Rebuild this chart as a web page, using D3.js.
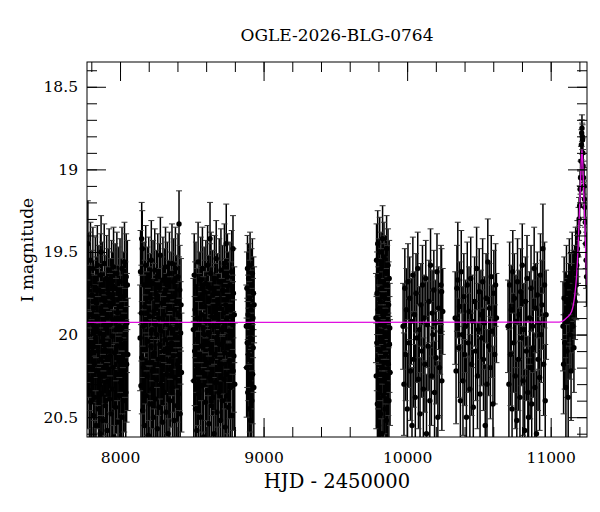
<!DOCTYPE html>
<html>
<head>
<meta http-equiv="Content-Type" content="text/html; charset=utf-8" />
<script src="https://cdn.jsdelivr.net/npm/d3@7"></script>
<title>OGLE-2026-BLG-0764</title>
<style>
  body { margin: 0; background: #fff; }
  text { font-family: "DejaVu Serif", serif; }
</style>
</head>
<body>
<svg width="600" height="512" id="mainsvg"></svg>
<script>
// photometry per observing season: [HJD-2450000, I mag, error]
const s2017 = [[7772,19.98,0.31],[7775,20.21,0.36],[7776,19.45,0.26],[7777,19.71,0.27],[7780,20.05,0.33],[7783,19.62,0.24],[7786,20.34,0.38],[7788,19.88,0.3],[7791,20.12,0.34],[7794,19.55,0.23],[7797,20.41,0.39],[7800,19.93,0.3],[7802,20.27,0.36],[7805,19.76,0.27],[7808,20.08,0.33],[7811,19.6,0.25],[7814,20.49,0.4],[7816,19.84,0.29],[7819,20.17,0.35],[7822,19.95,0.31],[7825,20.38,0.37],[7828,19.67,0.26],[7830,20.02,0.32],[7833,20.55,0.41],[7836,19.81,0.28],[7839,20.22,0.35],[7842,19.58,0.24],[7845,20.1,0.33],[7847,19.9,0.3],[7850,20.45,0.39],[7853,19.73,0.27],[7856,20.3,0.37],[7859,19.99,0.31],[7862,20.6,0.42],[7864,19.64,0.25],[7867,20.15,0.34],[7868,19.5,0.22],[7870,19.86,0.29],[7873,20.36,0.38],[7876,19.7,0.26],[7878,20.04,0.32],[7881,20.52,0.4],[7884,19.92,0.3],[7887,20.25,0.36],[7890,19.57,0.24],[7893,20.09,0.33],[7895,19.8,0.28],[7898,20.43,0.39],[7901,19.96,0.31],[7904,20.19,0.35],[7907,19.66,0.26],[7910,20.58,0.41],[7912,19.89,0.3],[7915,20.28,0.36],[7918,19.75,0.27],[7921,20.06,0.32],[7924,19.61,0.25],[7927,20.39,0.38],[7929,19.94,0.31],[7932,20.13,0.34],[7935,19.83,0.29],[7938,20.48,0.4],[7941,19.69,0.26],[7944,20.01,0.32],[7946,20.33,0.37],[7949,19.78,0.28],[7952,20.2,0.35],[7955,19.59,0.24],[7958,20.62,0.42],[7961,19.91,0.3],[7963,20.11,0.34],[7966,19.72,0.27],[7969,20.44,0.39],[7972,19.97,0.31],[7975,20.24,0.36],[7978,19.63,0.25],[7980,20.07,0.33],[7983,19.87,0.29],[7986,20.53,0.41],[7989,19.74,0.27],[7992,20.16,0.35],[7995,19.95,0.31],[7997,20.37,0.38],[8000,19.68,0.26],[8003,20.03,0.32],[8006,20.29,0.36],[8009,19.82,0.28],[8012,20.5,0.4],[8014,19.6,0.25],[8017,20.14,0.34],[8020,19.9,0.3],[8023,20.4,0.38],[8026,19.77,0.27],[8029,20.23,0.36],[8031,19.56,0.24],[8034,20.05,0.33],[8037,19.85,0.29],[8040,20.35,0.37],[8043,19.65,0.26],[8046,20.18,0.35],[8048,19.93,0.3],[8051,19.7,0.27],[8054,20.12,0.34]];
const s2018 = [[8140,20.02,0.32],[8143,19.62,0.25],[8146,20.31,0.37],[8149,19.87,0.29],[8151,19.42,0.22],[8152,20.14,0.34],[8155,19.48,0.23],[8158,20.46,0.39],[8161,19.95,0.31],[8164,20.2,0.35],[8167,19.7,0.26],[8170,20.55,0.41],[8173,19.83,0.28],[8176,20.09,0.33],[8179,19.58,0.24],[8182,20.37,0.38],[8185,19.92,0.3],[8188,20.25,0.36],[8191,19.74,0.27],[8194,20.04,0.32],[8197,20.61,0.42],[8200,19.66,0.25],[8203,20.17,0.35],[8206,19.89,0.3],[8209,20.42,0.39],[8212,19.78,0.27],[8215,20.07,0.33],[8218,19.55,0.24],[8221,20.33,0.37],[8224,19.97,0.31],[8227,20.22,0.35],[8230,19.69,0.26],[8233,20.5,0.4],[8236,19.86,0.29],[8239,20.11,0.34],[8242,19.61,0.25],[8245,20.39,0.38],[8248,19.94,0.3],[8251,20.27,0.36],[8254,19.76,0.27],[8257,20.0,0.32],[8260,20.57,0.41],[8263,19.64,0.25],[8266,20.15,0.34],[8269,19.9,0.3],[8272,20.44,0.39],[8275,19.72,0.27],[8278,20.06,0.33],[8281,19.52,0.23],[8284,20.3,0.37],[8287,19.98,0.31],[8290,20.19,0.35],[8293,19.81,0.28],[8296,20.53,0.41],[8299,19.67,0.26],[8302,20.1,0.33],[8305,19.88,0.29],[8308,20.35,0.38],[8311,19.75,0.27],[8314,20.03,0.32],[8317,19.59,0.24],[8320,20.47,0.4],[8323,19.93,0.3],[8326,20.24,0.36],[8329,19.7,0.26],[8332,20.08,0.33],[8335,20.6,0.42],[8338,19.84,0.29],[8341,20.16,0.35],[8344,19.63,0.25],[8347,20.4,0.39],[8350,19.96,0.31],[8353,20.21,0.35],[8356,19.77,0.27],[8359,20.05,0.32],[8362,19.57,0.24],[8365,20.32,0.37],[8368,19.91,0.3],[8371,20.13,0.34],[8374,19.68,0.26],[8377,20.52,0.41],[8380,19.85,0.29],[8383,20.26,0.36],[8386,19.6,0.25],[8389,20.01,0.32],[8392,19.8,0.28],[8395,20.43,0.39],[8398,19.95,0.31],[8401,20.18,0.35],[8404,19.65,0.26],[8407,20.36,0.38],[8410,19.88,0.3],[8411,19.33,0.2],[8413,20.12,0.34],[8416,19.73,0.27],[8419,20.48,0.4],[8422,19.99,0.31],[8425,19.82,0.28],[8428,20.23,0.36]];
const s2019 = [[8511,19.97,0.31],[8514,20.28,0.36],[8517,19.64,0.25],[8520,20.1,0.33],[8523,19.85,0.29],[8526,20.45,0.39],[8529,19.71,0.27],[8532,20.03,0.32],[8535,20.58,0.41],[8538,19.9,0.3],[8541,20.2,0.35],[8544,19.56,0.24],[8547,20.36,0.38],[8550,19.94,0.31],[8553,20.14,0.34],[8556,19.78,0.28],[8559,20.5,0.4],[8562,19.67,0.26],[8565,20.07,0.33],[8568,19.88,0.29],[8571,20.31,0.37],[8574,19.6,0.25],[8577,20.23,0.36],[8580,19.96,0.31],[8583,20.62,0.42],[8586,19.74,0.27],[8589,20.0,0.32],[8592,19.83,0.28],[8595,20.41,0.39],[8598,19.69,0.26],[8601,20.17,0.35],[8604,19.92,0.3],[8607,20.34,0.37],[8610,19.58,0.24],[8613,20.05,0.32],[8616,19.8,0.28],[8619,20.54,0.41],[8622,19.99,0.31],[8625,20.26,0.36],[8627,19.42,0.22],[8628,19.72,0.27],[8631,20.09,0.33],[8634,19.63,0.25],[8637,20.43,0.39],[8640,19.89,0.3],[8643,20.15,0.34],[8646,19.76,0.27],[8649,20.38,0.38],[8652,19.95,0.31],[8655,20.6,0.42],[8658,19.66,0.26],[8661,20.12,0.34],[8664,19.86,0.29],[8667,20.29,0.37],[8670,19.54,0.23],[8673,20.02,0.32],[8676,20.47,0.4],[8679,19.79,0.28],[8682,20.21,0.35],[8685,19.93,0.3],[8688,20.35,0.38],[8691,19.68,0.26],[8694,20.06,0.33],[8697,19.84,0.29],[8700,20.52,0.41],[8703,19.61,0.25],[8706,20.18,0.35],[8709,19.97,0.31],[8712,20.4,0.39],[8715,19.73,0.27],[8718,20.04,0.32],[8721,19.87,0.29],[8724,20.27,0.36],[8727,19.57,0.24],[8730,20.11,0.34],[8733,20.56,0.41],[8736,19.82,0.28],[8739,20.24,0.36],[8740,19.45,0.24],[8742,19.91,0.3],[8745,20.37,0.38],[8748,19.65,0.26],[8751,20.08,0.33],[8754,19.77,0.27],[8757,20.44,0.39],[8760,19.98,0.31],[8763,20.16,0.35],[8766,19.7,0.26],[8769,20.32,0.37],[8772,19.85,0.29],[8775,20.01,0.32],[8778,19.62,0.25],[8781,20.49,0.4],[8784,19.94,0.3],[8787,19.48,0.2],[8788,20.22,0.36],[8790,19.75,0.27],[8793,20.13,0.34],[8796,19.88,0.29],[8799,20.3,0.37]];
const s2020 = [[8880,19.95,0.25],[8882,20.2,0.3],[8884,19.72,0.22],[8886,20.05,0.27],[8888,19.6,0.2],[8890,20.35,0.32],[8892,19.88,0.24],[8894,20.12,0.28],[8896,19.66,0.21],[8898,20.45,0.34],[8900,19.93,0.25],[8902,19.78,0.23],[8904,20.28,0.31],[8906,19.58,0.2],[8908,20.02,0.26],[8910,20.52,0.35],[8912,19.85,0.24],[8914,20.16,0.29],[8916,19.7,0.22],[8918,20.4,0.33],[8920,19.97,0.25],[8922,19.63,0.21],[8924,20.24,0.3],[8926,19.9,0.24],[8928,20.08,0.27],[8930,19.75,0.22],[8932,20.32,0.31],[8934,19.82,0.23]];
const s2022 = [[9783,19.9,0.27],[9785,20.25,0.32],[9787,19.55,0.22],[9789,20.05,0.29],[9791,19.75,0.25],[9793,20.42,0.35],[9795,19.45,0.2],[9797,20.15,0.3],[9799,19.85,0.26],[9801,20.55,0.37],[9803,19.65,0.23],[9805,19.98,0.28],[9807,20.33,0.33],[9809,19.5,0.21],[9811,20.1,0.3],[9813,19.8,0.26],[9815,20.48,0.36],[9817,19.93,0.27],[9819,19.6,0.22],[9821,20.2,0.31],[9823,19.72,0.24],[9825,20.6,0.38],[9827,20.02,0.28],[9829,19.42,0.2],[9831,19.88,0.27],[9833,20.37,0.34],[9835,19.68,0.23],[9837,20.08,0.29],[9839,19.53,0.21],[9841,20.28,0.32],[9843,19.95,0.27],[9845,19.78,0.25],[9847,20.45,0.35],[9849,19.62,0.22],[9851,20.12,0.3],[9853,19.86,0.26],[9855,20.52,0.37],[9857,19.48,0.2],[9859,20.0,0.28],[9861,19.7,0.24],[9863,20.3,0.33],[9865,19.92,0.27],[9867,19.58,0.22],[9869,20.18,0.31],[9871,19.82,0.26],[9873,20.4,0.35],[9875,19.66,0.23],[9877,20.06,0.29],[9879,19.96,0.27],[9881,20.23,0.32]];
const s2023 = [[9972,19.95,0.26],[9978,20.3,0.31],[9984,19.72,0.24],[9990,20.12,0.28],[9995,19.85,0.25],[10001,20.45,0.33],[10006,19.68,0.23],[10012,20.05,0.27],[10018,19.78,0.25],[10023,20.22,0.3],[10029,19.92,0.26],[10034,20.55,0.35],[10040,19.64,0.23],[10046,20.15,0.29],[10051,19.88,0.26],[10057,20.38,0.32],[10062,19.75,0.24],[10068,20.02,0.27],[10074,19.6,0.22],[10079,20.27,0.3],[10085,19.97,0.26],[10090,20.48,0.34],[10096,19.82,0.25],[10102,20.1,0.28],[10107,19.7,0.24],[10113,20.33,0.31],[10118,19.9,0.26],[10124,20.18,0.29],[10130,19.66,0.23],[10135,20.6,0.36],[10141,19.94,0.26],[10146,20.07,0.27],[10152,19.8,0.25],[10158,20.4,0.32],[10163,19.58,0.22],[10169,20.25,0.3],[10174,19.87,0.26],[10180,20.0,0.27],[10186,19.73,0.24],[10191,20.35,0.31],[10197,19.93,0.26],[10202,20.14,0.28],[10208,19.62,0.23],[10214,20.5,0.34],[10219,19.84,0.25],[10225,20.2,0.29],[10230,19.98,0.26],[10236,19.7,0.24],[10240,19.74,0.26],[10242,20.28,0.3],[10248,19.86,0.26]];
const s2024 = [[10335,19.9,0.28],[10341,20.22,0.32],[10347,19.72,0.26],[10353,19.67,0.35],[10359,20.08,0.3],[10365,19.83,0.27],[10371,20.4,0.34],[10377,19.62,0.25],[10383,20.0,0.29],[10389,20.28,0.33],[10395,19.77,0.26],[10401,20.12,0.31],[10407,19.95,0.28],[10413,20.5,0.36],[10419,19.7,0.26],[10425,20.05,0.3],[10431,19.86,0.27],[10437,20.33,0.33],[10443,19.66,0.25],[10449,20.18,0.31],[10455,19.92,0.28],[10461,20.44,0.35],[10470,19.8,0.27],[10478,20.1,0.3],[10484,19.6,0.25],[10490,20.25,0.32],[10496,19.97,0.28],[10502,19.74,0.26],[10508,20.36,0.34],[10514,19.88,0.27],[10520,20.02,0.29],[10526,19.68,0.26],[10532,20.15,0.31],[10538,19.93,0.28],[10544,20.55,0.37],[10550,19.78,0.27],[10556,20.3,0.33],[10562,19.56,0.26],[10568,20.07,0.3],[10574,19.84,0.27],[10580,20.2,0.31],[10586,19.65,0.25],[10592,19.98,0.28],[10598,20.42,0.35],[10604,19.75,0.26],[10610,20.12,0.3],[10616,19.7,0.25],[10622,19.9,0.27]];
const s2025 = [[10703,19.95,0.28],[10709,20.3,0.33],[10714,19.7,0.26],[10720,20.12,0.31],[10725,19.85,0.27],[10731,20.45,0.35],[10736,19.62,0.25],[10742,20.05,0.3],[10747,19.78,0.27],[10753,20.25,0.32],[10758,19.92,0.28],[10764,20.52,0.36],[10769,19.68,0.26],[10775,20.15,0.31],[10780,19.88,0.27],[10786,20.38,0.34],[10791,19.74,0.26],[10797,20.02,0.29],[10802,19.58,0.25],[10808,20.28,0.33],[10813,19.97,0.28],[10819,20.58,0.37],[10824,19.8,0.27],[10830,20.1,0.3],[10835,19.66,0.26],[10841,20.35,0.34],[10846,20.5,0.36],[10852,19.9,0.28],[10857,20.2,0.31],[10863,19.72,0.26],[10868,20.42,0.35],[10874,19.95,0.28],[10879,20.08,0.3],[10885,19.6,0.25],[10890,20.32,0.33],[10896,19.84,0.27],[10901,20.6,0.38],[10907,19.76,0.26],[10912,20.15,0.31],[10918,19.93,0.28],[10923,20.26,0.32],[10929,19.64,0.25],[10934,20.0,0.29],[10940,19.82,0.27],[10946,19.48,0.27],[10951,20.18,0.31],[10957,19.7,0.26],[10962,20.4,0.34],[10968,19.88,0.27]];
const s2026 = [[11086,19.95,0.27],[11090,20.18,0.3],[11094,19.78,0.25],[11098,20.05,0.28],[11102,19.88,0.26],[11106,20.32,0.32],[11110,19.7,0.24],[11114,20.1,0.28],[11118,19.92,0.26],[11122,20.38,0.33],[11126,19.82,0.25],[11130,19.65,0.23],[11134,20.0,0.27],[11138,19.75,0.24],[11142,20.22,0.3],[11146,19.86,0.25],[11150,19.6,0.22],[11154,19.95,0.26],[11158,19.72,0.23],[11162,20.08,0.27],[11166,19.68,0.22],[11170,19.8,0.23],[11174,19.55,0.2],[11178,19.7,0.21],[11182,19.58,0.18],[11186,19.48,0.17],[11190,19.52,0.17],[11194,19.38,0.15],[11198,19.3,0.13],[11202,19.22,0.12],[11205,19.12,0.11],[11208,19.05,0.1],[11211,18.95,0.09],[11214,18.85,0.09],[11216,18.78,0.08],[11218,18.75,0.08],[11220,18.8,0.08],[11222,18.82,0.09],[11224,18.9,0.09],[11226,18.98,0.1],[11229,19.05,0.1],[11232,19.1,0.11],[11235,19.18,0.11],[11238,19.23,0.12],[11241,19.32,0.13],[11244,19.45,0.15],[11247,19.55,0.17],[11250,19.65,0.18]];

// fitted model curve
const modelT   = [7770, 11060, 11110, 11146, 11168, 11180, 11191, 11203, 11214, 11218, 11222, 11230, 11242, 11249, 11253];
const modelMag = [19.926, 19.925, 19.90, 19.86, 19.76, 19.65, 19.47, 19.19, 18.93, 18.88, 18.93, 19.13, 19.43, 19.62, 19.70];

const xMajor = [8000, 9000, 10000, 11000];
const yMajor = [18.5, 19, 19.5, 20, 20.5];
const yTickLabels = ['18.5', '19', '19.5', '20', '20.5'];

const titleText = 'OGLE-2026-BLG-0764';
const xLabel = 'HJD - 2450000';
const yLabel = 'I magnitude';

let svg = d3.select('#mainsvg');
const L = 87, R = 587, T = 62, B = 437;

let x = d3.scaleLinear().domain([7770, 11253]).range([L, R]);
let y = d3.scaleLinear().domain([18.35, 20.62]).range([T, B]);

svg.append('defs').append('clipPath').attr('id', 'plotclip')
  .append('rect').attr('x', L).attr('y', T).attr('width', R - L).attr('height', B - T);

let data = [].concat(s2017, s2018, s2019, s2020, s2022, s2023, s2024, s2025, s2026);

let plot = svg.append('g').attr('clip-path', 'url(#plotclip)');

// error bars
let eb = plot.append('g').attr('stroke', '#000').attr('stroke-width', 1.5);
eb.selectAll('.bar').data(data).join('line').attr('class', 'bar')
  .attr('x1', d => x(d[0])).attr('x2', d => x(d[0]))
  .attr('y1', d => y(d[1] - d[2])).attr('y2', d => y(d[1] + d[2]));
eb.selectAll('.capt').data(data).join('line').attr('class', 'capt')
  .attr('x1', d => x(d[0]) - 3).attr('x2', d => x(d[0]) + 3)
  .attr('y1', d => y(d[1] - d[2])).attr('y2', d => y(d[1] - d[2]))
  .attr('stroke-width', 1).attr('stroke', '#333');
eb.selectAll('.capb').data(data).join('line').attr('class', 'capb')
  .attr('x1', d => x(d[0]) - 3).attr('x2', d => x(d[0]) + 3)
  .attr('y1', d => y(d[1] + d[2])).attr('y2', d => y(d[1] + d[2]))
  .attr('stroke-width', 1).attr('stroke', '#333');

plot.selectAll('.pt').data(data).join('circle').attr('class', 'pt')
  .attr('cx', d => x(d[0])).attr('cy', d => y(d[1])).attr('r', 2.7)
  .attr('fill', '#000');

// model
let line = d3.line().x(d => x(d[0])).y(d => y(d[1])).curve(d3.curveMonotoneX);
plot.append('path').datum(modelT.map((t, i) => [t, modelMag[i]]))
  .attr('d', line).attr('fill', 'none')
  .attr('stroke', '#e010e0').attr('stroke-width', 1.3);

// axes, ticks inward on all four sides
function styleAxis(g) {
  g.attr('font-family', null).attr('font-size', null);
  g.select('.domain').remove();
  g.selectAll('line').attr('stroke', '#000');
}
const xMinor = d3.range(7800, 11253, 200);
const yMinor = d3.range(18.4, 20.62, 0.1);

svg.append('g').attr('transform', `translate(0,${B})`)
  .call(d3.axisBottom(x).tickValues(xMinor).tickSize(-10).tickSizeOuter(0).tickFormat(''))
  .call(styleAxis);
svg.append('g').attr('transform', `translate(0,${T})`)
  .call(d3.axisTop(x).tickValues(xMinor).tickSize(-10).tickSizeOuter(0).tickFormat(''))
  .call(styleAxis);
svg.append('g').attr('transform', `translate(0,${T})`)
  .call(d3.axisTop(x).tickValues(xMajor).tickSize(-19).tickSizeOuter(0).tickFormat(''))
  .call(styleAxis);
svg.append('g').attr('transform', `translate(0,${B})`)
  .call(d3.axisBottom(x).tickValues(xMajor).tickSize(-19).tickSizeOuter(0).tickPadding(15).tickFormat(d3.format('d')))
  .call(styleAxis)
  .selectAll('text').attr('font-size', '15.5px').attr('fill', '#000');

svg.append('g').attr('transform', `translate(${L},0)`)
  .call(d3.axisLeft(y).tickValues(yMinor).tickSize(-10).tickSizeOuter(0).tickFormat(''))
  .call(styleAxis);
svg.append('g').attr('transform', `translate(${R},0)`)
  .call(d3.axisRight(y).tickValues(yMinor).tickSize(-10).tickSizeOuter(0).tickFormat(''))
  .call(styleAxis);
svg.append('g').attr('transform', `translate(${R},0)`)
  .call(d3.axisRight(y).tickValues(yMajor).tickSize(-19).tickSizeOuter(0).tickFormat(''))
  .call(styleAxis);
svg.append('g').attr('transform', `translate(${L},0)`)
  .call(d3.axisLeft(y).tickValues(yMajor).tickSize(-19).tickSizeOuter(0).tickPadding(9)
        .tickFormat((d, i) => yTickLabels[i]))
  .call(styleAxis)
  .selectAll('text').attr('font-size', '15.5px').attr('fill', '#000');

svg.append('rect').attr('x', L).attr('y', T).attr('width', R - L).attr('height', B - T)
  .attr('fill', 'none').attr('stroke', '#000').attr('stroke-width', 1);

svg.append('text').attr('x', (L + R) / 2).attr('y', 41).attr('text-anchor', 'middle')
  .attr('font-size', '17px').text(titleText);
svg.append('text').attr('x', (L + R) / 2).attr('y', 488).attr('text-anchor', 'middle')
  .attr('font-size', '19.5px').text(xLabel);
svg.append('text').attr('transform', `translate(33,250) rotate(-90)`).attr('text-anchor', 'middle')
  .attr('font-size', '17px').text(yLabel);
</script>
</body>
</html>
